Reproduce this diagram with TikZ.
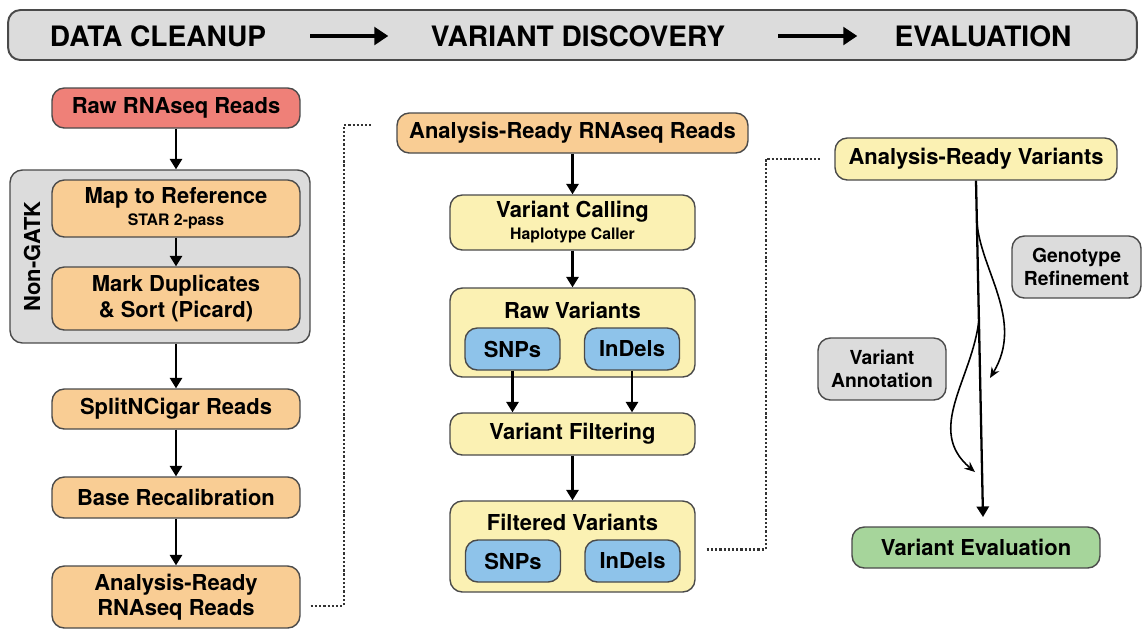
\documentclass[tikz,border=0pt]{standalone}
\usepackage{fontspec}
\setmainfont{TeX Gyre Heros}
\usetikzlibrary{arrows.meta,calc}
\definecolor{boxline}{HTML}{4A4A4A}
\definecolor{boxred}{HTML}{EF8078}
\definecolor{boxorange}{HTML}{F9CD94}
\definecolor{boxyellow}{HTML}{FBF1B3}
\definecolor{boxblue}{HTML}{8EC3EA}
\definecolor{boxgray}{HTML}{DCDCDC}
\definecolor{boxgreen}{HTML}{A6D59B}
\newcommand{\subtext}{\bfseries\fontsize{9}{11}\selectfont}

\begin{document}
\begin{tikzpicture}[x=0.02cm,y=-0.02cm,
  box/.style={draw=boxline, line width=0.8pt, rounded corners=7pt, inner sep=0pt,
    align=center, font=\bfseries\fontsize{12.5}{14.5}\selectfont},
  redbox/.style={box, fill=boxred, minimum width=4.96cm},
  orangebox/.style={box, fill=boxorange, minimum width=4.96cm},
  yellowbox/.style={box, fill=boxyellow, minimum width=4.9cm},
  bluebox/.style={box, fill=boxblue, minimum width=1.9cm, minimum height=0.84cm},
  graybox/.style={box, fill=boxgray, font=\bfseries\fontsize{11}{13}\selectfont},
  greenbox/.style={box, fill=boxgreen, minimum width=4.96cm},
  title/.style={inner sep=0pt, font=\bfseries\fontsize{12.5}{14.5}\selectfont},
  head/.style={inner sep=0pt, font=\bfseries\fontsize{16}{18}\selectfont},
  arr/.style={line width=1.3pt, -{Triangle[length=6pt,width=7pt]}},
  headarr/.style={line width=2pt, -{Triangle[length=8pt,width=10pt]}},
  bendarr/.style={line width=0.9pt, -{Stealth[length=6pt,width=5pt]}},
  dotlink/.style={line width=1.3pt, black!80, dash pattern=on 1.3pt off 1.1pt}
]
\useasboundingbox (0,0) rectangle (1145,630);

% Header bar
\node[draw=boxline, line width=1.1pt, fill=boxgray, rounded corners=7pt,
  minimum width=22.58cm, minimum height=1cm] (bar) at (572.5,35) {};
\node[head] (clean) at (158,36) {DATA CLEANUP};
\node[head] (disc) at (578,36) {VARIANT DISCOVERY};
\node[head] (evalh) at (983,36) {EVALUATION};
\draw[headarr, shorten <=25pt, shorten >=24pt] (clean.east) -- (disc.west);
\draw[headarr, shorten <=30pt, shorten >=21pt] (disc.east) -- (evalh.west);

% Data cleanup
\node[redbox, minimum height=0.8cm] (raw) at (176,108) {Raw RNAseq Reads};
\node[graybox, fill=boxgray, minimum width=6cm, minimum height=3.46cm] (nongatk) at (160,256.5) {};
\node[title, rotate=90] (nongatklab) at (32,256.5) {Non-GATK};
\node[orangebox, minimum height=1.14cm] (map) at (176,208.5)
  {Map to Reference\\[-2pt] {\subtext STAR 2-pass}};
\node[orangebox, minimum height=1.26cm] (mark) at (176,298.5)
  {Mark Duplicates\\ \& Sort (Picard)};
\node[orangebox, minimum height=0.8cm] (split) at (176,409) {SplitNCigar Reads};
\node[orangebox, minimum height=0.82cm] (base) at (176,497.5) {Base Recalibration};
\node[orangebox, minimum height=1.24cm] (ready) at (176,597)
  {Analysis-Ready\\ RNAseq Reads};

\draw[arr] (raw.south) -- (raw.south |- nongatk.north);
\draw[arr] (map) -- (mark);
\draw[arr] (nongatk.south -| split.north) -- (split);
\draw[arr] (split) -- (base);
\draw[arr] (base) -- (ready);

% Variant discovery
\node[orangebox, minimum width=7.02cm, minimum height=0.8cm] (rnaready) at (572.5,133)
  {Analysis-Ready RNAseq Reads};
\node[yellowbox, minimum height=1.1cm] (call) at (572.5,222.5)
  {Variant Calling\\[-2pt] {\subtext Haplotype Caller}};
\node[yellowbox, minimum height=1.78cm] (rawv) at (572.5,332.5) {};
\node[title] (rawvt) at (572.5,310) {Raw Variants};
\node[bluebox] (snp1) at (512.5,349) {SNPs};
\node[bluebox] (indel1) at (632,349) {InDels};
\node[yellowbox, minimum height=0.84cm] (filt) at (572.5,434) {Variant Filtering};
\node[yellowbox, minimum height=1.82cm] (filtv) at (572.5,546.5) {};
\node[title] (filtvt) at (572.5,522) {Filtered Variants};
\node[bluebox] (snp2) at (513,561) {SNPs};
\node[bluebox] (indel2) at (632.5,561) {InDels};

\draw[arr] (rnaready) -- (call);
\draw[arr] (call) -- (rawv);
\draw[arr] (snp1.south) -- (snp1.south |- filt.north);
\draw[arr] (indel1.south) -- (indel1.south |- filt.north);
\draw[arr] (filt) -- (filtv);

% Evaluation
\node[yellowbox, minimum width=5.64cm, minimum height=0.84cm] (avar) at (976,159)
  {Analysis-Ready Variants};
\node[graybox, minimum width=2.58cm, minimum height=1.24cm] (geno) at (1076.5,267)
  {Genotype\\ Refinement};
\node[graybox, minimum width=2.56cm, minimum height=1.24cm] (annot) at (882,369)
  {Variant\\ Annotation};
\node[greenbox, minimum height=0.82cm] (evalv) at (976,547.5) {Variant Evaluation};

\coordinate (tipe) at (983,517);
\draw[arr] (avar.south) -- (tipe)
  coordinate[pos=0.12] (gstart) coordinate[pos=0.415] (astart);
\draw[bendarr] (gstart) .. controls (980,270) and (1025,320) .. (990,378);
\draw[bendarr] (astart) .. controls (972,380) and (925,430) .. (975,472);

% Dotted links
\draw[dotlink] ([shift={(10,9)}]ready.east) -- ++(33,0) |- ([shift={(-25,-8)}]rnaready.west);
\draw[dotlink] ([shift={(11,3)}]filtv.east) -- ++(59,0) |- ([xshift=-7pt]avar.west);

\end{tikzpicture}
\end{document}
